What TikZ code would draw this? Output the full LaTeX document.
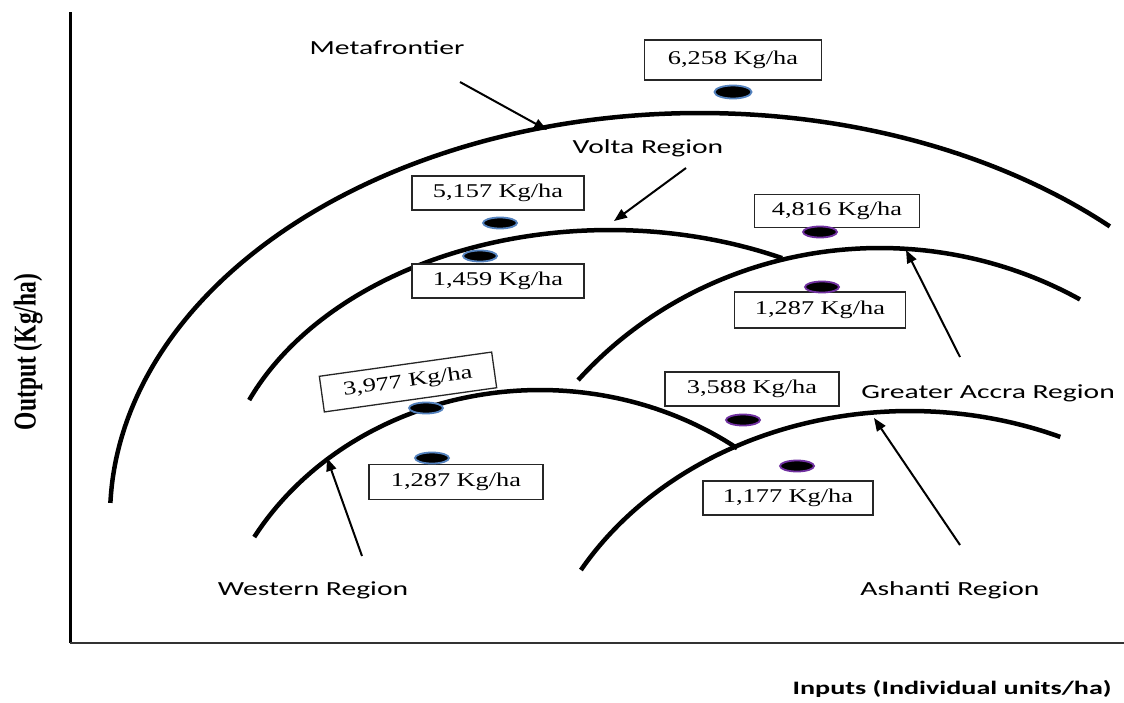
\documentclass[tikz,border=0pt]{standalone}
\usepackage{fontspec}
\usetikzlibrary{shapes.geometric,arrows.meta}
\newfontfamily\labfont[FakeStretch=1.48]{Carlito}
\newfontfamily\boxfont[FakeStretch=1.35]{Liberation Serif}
\newfontfamily\yfont{Liberation Serif}
\begin{document}
\begin{tikzpicture}[x=1pt,y=-1pt,
  frontier/.style={line width=4.5pt},
  valbox/.style={draw=black!85, line width=1.3pt, fill=white, inner sep=0pt,
    minimum width=172pt, minimum height=34pt,
    font=\boxfont\fontsize{19.5}{22}\selectfont},
  bluedot/.style={ellipse, fill=black, draw={rgb,255:red,84;green,130;blue,190}, line width=1.8pt,
    minimum width=34pt, minimum height=11pt, inner sep=0pt},
  purpdot/.style={bluedot, draw={rgb,255:red,112;green,48;blue,160}},
  reglabel/.style={font=\labfont\fontsize{20}{24}\selectfont, inner sep=0pt},
  pointer/.style={line width=2pt, -{Triangle[length=13pt,width=10pt]}}
]
\useasboundingbox (0,0) rectangle (1124,702);
\fill[white] (0,0) rectangle (1124,702);

% axes
\coordinate (org) at (70,643);
\coordinate (ytop) at (70,12);
\coordinate (xend) at (1124,643);
\draw[line width=3pt] (org) -- (ytop);
\draw[line width=2.5pt, black!80] (org) -- (xend);

\node (ylab) at (28,352) {\scalebox{1.35}[1]{\rotatebox{90}{\yfont\bfseries\fontsize{23.5}{26}\selectfont Output (Kg/ha)}}};
\node[font=\labfont\bfseries\fontsize{19}{22}\selectfont, inner sep=0pt] (xlab) at (952,689) {Inputs (Individual units/ha)};

% frontiers
\draw[frontier] plot[domain=178:46,samples=90,smooth,variable=\t] ({700+590*cos(\t)},{517-404*sin(\t)});
\draw[frontier] plot[domain=157.7:63.8,samples=70,smooth,variable=\t] ({610+390*cos(\t)},{504-274*sin(\t)});
\draw[frontier] plot[domain=139:60,samples=70,smooth,variable=\t] ({880+400*cos(\t)},{632-384*sin(\t)});
\draw[frontier] plot[domain=150:53.3,samples=70,smooth,variable=\t] ({540+330*cos(\t)},{684-294*sin(\t)});
\draw[frontier] plot[domain=150:66.7,samples=70,smooth,variable=\t] ({910+380*cos(\t)},{729-318*sin(\t)});

% labels
\node[reglabel] (meta) at (387,48) {Metafrontier};
\node[reglabel] (volta) at (648,148) {Volta Region};
\node[reglabel] (accra) at (988,393) {Greater Accra Region};
\node[reglabel] (west) at (313,590) {Western Region};
\node[reglabel] (ash) at (950,590) {Ashanti Region};

% arrows
\coordinate (metaA) at (460,82);   \coordinate (metaB) at (547,130);
\coordinate (voltaA) at (686,168); \coordinate (voltaB) at (614,221);
\coordinate (accraA) at (960,357); \coordinate (accraB) at (906,250);
\coordinate (westA) at (362,556);  \coordinate (westB) at (327,458);
\coordinate (ashA) at (960,545);   \coordinate (ashB) at (874,418);
\draw[pointer] (metaA) -- (metaB);
\draw[pointer] (voltaA) -- (voltaB);
\draw[pointer] (accraA) -- (accraB);
\draw[pointer] (westA) -- (westB);
\draw[pointer] (ashA) -- (ashB);

% value boxes
\node[valbox, minimum width=177pt, minimum height=40pt] (b1) at (733,60) {6,258 Kg/ha};
\node[valbox] (b2) at (498,193) {5,157 Kg/ha};
\node[valbox] (b3) at (498,281) {1,459 Kg/ha};
\node[valbox, minimum width=165pt, minimum height=33pt] (b4) at (837,211) {4,816 Kg/ha};
\node[valbox, minimum width=171pt, minimum height=36pt] (b5) at (820,310) {1,287 Kg/ha};
\node[valbox, minimum width=174pt, minimum height=36pt, rotate=8] (b6) at (408,382) {3,977 Kg/ha};
\node[valbox, minimum width=174pt, minimum height=35pt] (b7) at (456,482) {1,287 Kg/ha};
\node[valbox, minimum width=174pt] (b8) at (752,389) {3,588 Kg/ha};
\node[valbox, minimum width=170pt] (b9) at (788,498) {1,177 Kg/ha};

% dots
\node[bluedot, minimum width=37pt, minimum height=13pt] (d1) at (733,92) {};
\node[bluedot] (d2) at (500,223) {};
\node[bluedot] (d3) at (480,256) {};
\node[purpdot] (d4) at (820,232) {};
\node[purpdot] (d5) at (822,287) {};
\node[bluedot] (d6) at (426,408) {};
\node[bluedot] (d7) at (432,458) {};
\node[purpdot] (d8) at (743,420) {};
\node[purpdot] (d9) at (797,466) {};
\end{tikzpicture}
\end{document}
